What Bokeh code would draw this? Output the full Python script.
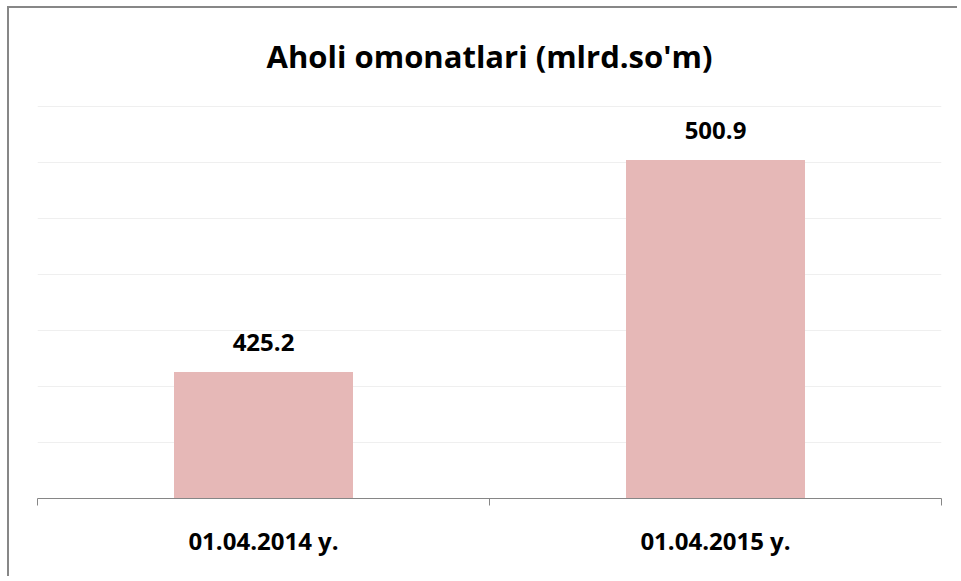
from bokeh.plotting import figure
from bokeh.models import (ColumnDataSource, Range1d, LabelSet, Label,
                          LinearAxis, FixedTicker, SingleIntervalTicker, Grid)
from bokeh.core.properties import value
from bokeh.embed import file_html
from bokeh.resources import INLINE

title_text = "Aholi omonatlari (mlrd.so'm)"
categories = ["01.04.2014 y.", "01.04.2015 y."]
values = [425.2, 500.9]
value_labels = ["425.2", "500.9"]
y_min, y_max, y_step = 380, 520, 20

FONT = "Open Sans"
BAR = "#E6B8B7"
AXIS = "#868686"

n = len(categories)
centers = [i + 0.5 for i in range(n)]
edges = list(range(n + 1))
src = ColumnDataSource(dict(x=centers, val=values, lab=value_labels))

# layout: the value area (y_min..y_max) spans 392px; the frame extends higher to hold the title
W, H = 950, 570
border_top, border_bottom = 20, 80
frame_h = H - border_top - border_bottom
value_area_h = 392
y_top = y_min + (y_max - y_min) * frame_h / value_area_h

p = figure(width=W, height=H, output_backend="svg", toolbar_location=None,
           x_range=Range1d(0, n), y_range=Range1d(y_min, y_top),
           x_axis_location=None, y_axis_location=None,
           min_border_left=28, min_border_right=18,
           min_border_top=border_top, min_border_bottom=border_bottom)
p.styles = {"margin-left": "7px", "margin-top": "6px",
            "border-left": "2px solid #878787", "border-top": "2px solid #878787"}
p.outline_line_color = None
p.background_fill_color = "white"
p.border_fill_color = "white"
p.xgrid.visible = False
p.ygrid.visible = False

p.add_layout(Grid(dimension=1, ticker=SingleIntervalTicker(interval=y_step),
                  bounds=(y_min, y_max),
                  grid_line_color="#EFEFEF", grid_line_width=1))

p.vbar(x="x", top="val", bottom=y_min, width=0.396, source=src,
       fill_color=BAR, line_color=None)

x_axis = LinearAxis(ticker=FixedTicker(ticks=centers, minor_ticks=edges),
                    major_label_overrides={c: lab for c, lab in zip(centers, categories)},
                    axis_line_color=AXIS, axis_line_width=1,
                    major_tick_line_color=None,
                    minor_tick_line_color=AXIS, minor_tick_out=7, minor_tick_in=0,
                    major_label_standoff=18,
                    major_label_text_font=FONT, major_label_text_font_style="bold",
                    major_label_text_font_size="24px", major_label_text_color="black")
p.add_layout(x_axis, "below")

labels = LabelSet(x="x", y="val", text="lab", source=src, y_offset=29,
                  text_align="center", text_baseline="middle",
                  text_font=value(FONT), text_font_style="bold", text_font_size="24px",
                  text_color="black")
p.add_layout(labels)

title = Label(x=n / 2, y=y_max, y_offset=51, text=title_text,
              text_align="center", text_baseline="middle",
              text_font=FONT, text_font_style="bold", text_font_size="31px",
              text_color="black")
p.add_layout(title)

open("out.html", "w").write(file_html(p, INLINE))
